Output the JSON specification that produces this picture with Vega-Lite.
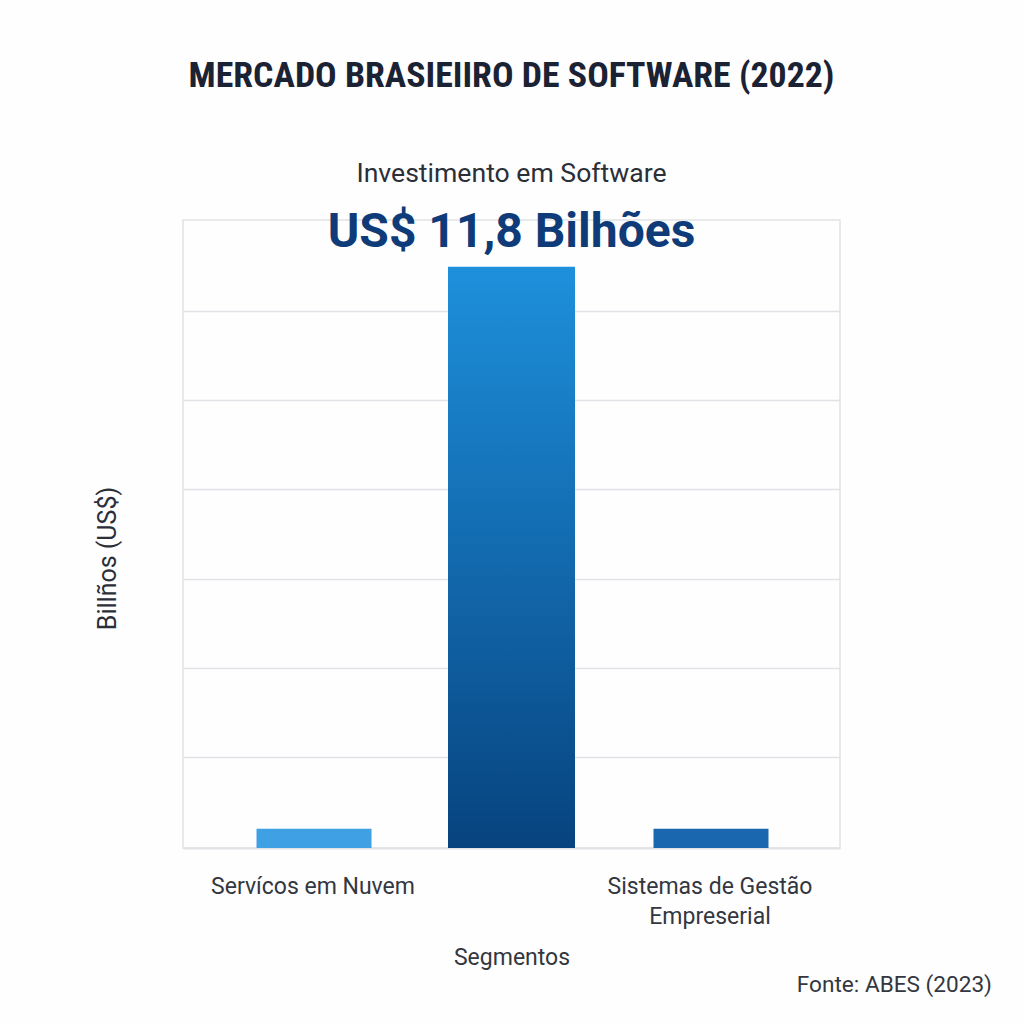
{"$schema":"https://vega.github.io/schema/vega-lite/v6.json","width":657,"height":628,"autosize":"none","padding":{"left":183,"top":220,"right":184,"bottom":176},"background":"#fefefe","title":{"text":"MERCADO  BRASIEIIRO DE SOFTWARE (2022)","subtitle":"Investimento em Software","anchor":"middle","font":"Roboto Condensed","fontWeight":"bold","fontSize":35.8,"color":"#1a2233","subtitleFont":"Roboto","subtitleFontSize":26.6,"subtitleColor":"#2b2f38","subtitlePadding":66,"offset":20},"config":{"view":{"stroke":"#e0e2e5","strokeWidth":1.5}},"data":{"values":[{"segmento":"Servícos em Nuvem","valor":0.39},{"segmento":"Investimento em Software","valor":11.8},{"segmento":"Sistemas de Gestão Empreserial","valor":0.39}]},"encoding":{"x":{"field":"segmento","type":"nominal","sort":null,"scale":{"domain":["Servícos em Nuvem","Investimento em Software","Sistemas de Gestão Empreserial"],"paddingInner":0.4,"paddingOuter":0.355},"axis":{"values":["Servícos em Nuvem","Sistemas de Gestão Empreserial"],"labelAngle":0,"labelFont":"Roboto","labelFontSize":23,"labelColor":"#33373f","labelLineHeight":30,"labelPadding":27,"labelLimit":400,"ticks":false,"domain":true,"domainColor":"#e0e2e5","domainWidth":2,"grid":false,"title":"Segmentos","titleFont":"Roboto","titleFontWeight":"normal","titleFontSize":23,"titleColor":"#33373f","titleY":98,"labelExpr":"datum.label == 'Sistemas de Gestão Empreserial' ? ['Sistemas de Gestão','Empreserial'] : datum.label"}},"y":{"field":"valor","type":"quantitative","scale":{"domain":[0,12.75],"nice":false},"axis":{"values":[1.85,3.65,5.46,7.29,9.1,10.9],"grid":true,"gridColor":"#e0e2e5","gridWidth":1.5,"ticks":false,"labels":false,"domain":false,"title":"Billños (US$)","titleFont":"Roboto","titleFontWeight":"normal","titleFontSize":25,"titleColor":"#2b2f38","titleX":-63,"titleY":338,"titleAngle":-90}}},"layer":[{"transform":[{"filter":"datum.segmento == 'Servícos em Nuvem'"}],"mark":{"type":"bar","width":115,"xOffset":1,"color":"#3fa0e4"}},{"transform":[{"filter":"datum.segmento == 'Investimento em Software'"}],"mark":{"type":"bar","width":127,"color":{"gradient":"linear","x1":0,"y1":0,"x2":0,"y2":1,"stops":[{"offset":0,"color":"#1e90dc"},{"offset":1,"color":"#07437f"}]}}},{"transform":[{"filter":"datum.segmento == 'Sistemas de Gestão Empreserial'"}],"mark":{"type":"bar","width":115,"xOffset":1,"color":"#1a67b0"}},{"transform":[{"filter":"datum.segmento == 'Investimento em Software'"}],"mark":{"type":"text","text":"US$ 11,8 Bilhões","font":"Roboto","fontWeight":"bold","fontSize":48,"color":"#0f3c78","align":"center","baseline":"alphabetic","dy":-20}},{"transform":[{"filter":"datum.segmento == 'Sistemas de Gestão Empreserial'"}],"mark":{"type":"text","text":"Fonte: ABES (2023)","font":"Roboto","fontSize":22.6,"color":"#33373f","align":"right","baseline":"alphabetic","dx":282,"dy":163}}]}
